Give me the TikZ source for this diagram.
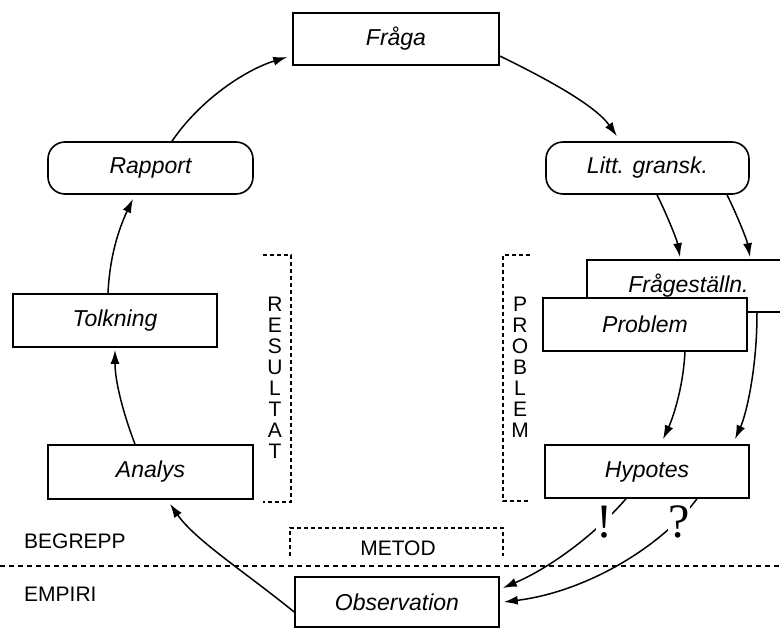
\documentclass[tikz,border=0pt]{standalone}
\usepackage{fontspec}
\setmainfont{Liberation Sans}
\newfontfamily\serifmark{Liberation Serif}
\usetikzlibrary{arrows.meta}
\begin{document}
\begin{tikzpicture}[x=1pt,y=-1pt,
  box/.style={draw,line width=1.6pt,fill=white,minimum width=204pt,minimum height=53pt,inner sep=0pt,font=\fontsize{23}{27}\selectfont\itshape},
  rbox/.style={box,rounded corners=17pt},
  conn/.style={line width=1.5pt,-{Latex[length=14pt,width=9pt]}},
  brk/.style={line width=1.4pt,dash pattern=on 4pt off 3pt},
  lbl/.style={font=\fontsize{21}{24}\selectfont,inner sep=0pt},
  vlbl/.style={font=\fontsize{21}{21}\selectfont,align=center,inner sep=0pt,anchor=north},
  bigmark/.style={font=\fontsize{48}{48}\serifmark\selectfont,fill=white,inner sep=0.5pt}
]
\useasboundingbox (0,0) rectangle (780,628);

% boxes
\node[box,minimum width=206pt,minimum height=52pt] (fra) at (396,39) {Fråga};
\node[rbox,minimum width=205pt,minimum height=52pt] (rap) at (150.5,168) {Rapport};
\node[rbox,minimum width=203pt,minimum height=52pt] (lit) at (647.5,168) {Litt. gransk.};
\node[box,minimum width=203pt,minimum height=52pt] (frq) at (688.5,286) {Frågeställn.};
\node[box] (prob) at (645,324.5) {Problem};
\node[box] (tol) at (115,320.5) {Tolkning};
\node[box,minimum width=205pt,minimum height=54pt] (ana) at (150.5,472) {Analys};
\node[box] (hyp) at (647,471.5) {Hypotes};
\node[box,minimum height=50pt] (obs) at (397,602) {Observation};

% dashed brackets and line
\draw[brk] (263,255) -- (291,255) -- (291,502) -- (263,502);
\draw[brk] (530,255) -- (503,255) -- (503,501) -- (530,501);
\draw[brk] (290,556) -- (290,528) -- (503,528) -- (503,556);
\draw[line width=1.4pt,dash pattern=on 5pt off 4pt] (0,566) -- (780,566);

% labels
\node[vlbl] (res) at (275,297) {R\\E\\S\\U\\L\\T\\A\\T};
\node[vlbl] (pro) at (520,297) {P\\R\\O\\B\\L\\E\\M};
\node[lbl,anchor=west] (beg) at (24,541) {BEGREPP};
\node[lbl,anchor=west] (emp) at (24,594) {EMPIRI};
\node[lbl] (met) at (398,548) {METOD};

% connectors
\draw[conn] ([xshift=21.5pt]rap.north) .. controls (200,100) and (245,70) .. ([xshift=-5pt,yshift=-18pt]fra.west);
\draw[conn] ([yshift=-17pt]fra.east) .. controls (545,78) and (595,105) .. ([xshift=-30.5pt,yshift=5pt]lit.north);
\draw[conn] ([xshift=9.5pt]lit.south) .. controls (667,215) and (677,240) .. ([xshift=-8.5pt,yshift=2pt]frq.north);
\draw[conn] ([xshift=79.5pt]lit.south) .. controls (737,215) and (747,240) .. ([xshift=61.5pt,yshift=2pt]frq.north);
\draw[conn] ([xshift=40pt]prob.south) .. controls (683,390) and (672,420) .. ([xshift=16pt,yshift=5pt]hyp.north);
\draw[conn] ([xshift=68.5pt]frq.south) .. controls (757,370) and (746,415) .. ([xshift=88pt,yshift=5pt]hyp.north);
\draw[conn] ([xshift=-21pt]hyp.south) .. controls (590,540) and (545,570) .. ([xshift=3pt,yshift=14pt]obs.east);
\draw[conn] ([xshift=50pt]hyp.south) .. controls (660,548) and (585,592) .. ([xshift=4pt]obs.east);
\draw[conn] ([yshift=-10pt]obs.west) .. controls (245,572) and (195,540) .. ([xshift=19.5pt,yshift=-4pt]ana.south);
\draw[conn] ([xshift=-15.5pt]ana.north) .. controls (122,410) and (115,380) .. ([yshift=-2pt]tol.south);
\draw[conn] ([xshift=-7pt]tol.north) .. controls (110,250) and (122,222) .. ([xshift=-17.5pt,yshift=-4pt]rap.south);

% marks
\node[bigmark] (excl) at (604,522) {!};
\node[bigmark] (ques) at (679,522) {?};
\end{tikzpicture}
\end{document}
